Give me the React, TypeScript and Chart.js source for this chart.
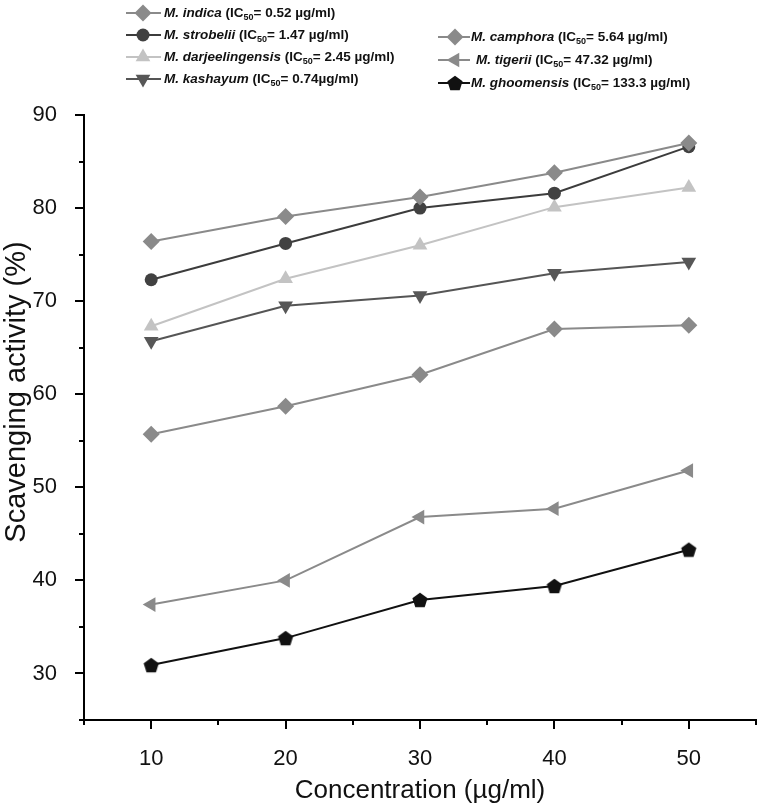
import React, { useEffect, useRef } from 'react';
import { Chart, registerables } from 'chart.js';

Chart.register(...registerables);

// ---- data ----
const concentrations = [10, 20, 30, 40, 50];
const indica = [76.4, 79.1, 81.2, 83.8, 87.0];
const strobelii = [72.3, 76.2, 80.0, 81.6, 86.6];
const darjeelingensis = [67.3, 72.4, 76.0, 80.1, 82.2];
const kashayum = [65.7, 69.5, 70.6, 73.0, 74.2];
const camphora = [55.7, 58.7, 62.1, 67.0, 67.4];
const tigerii = [37.4, 40.0, 46.8, 47.7, 51.8];
const ghoomensis = [30.9, 33.8, 37.9, 39.4, 43.3];

const speciesNames = ['M. indica', 'M. strobelii', 'M. darjeelingensis', 'M. kashayum', 'M. camphora', 'M. tigerii', 'M. ghoomensis'];
const ic50Values = ['= 0.52 µg/ml)', '= 1.47 µg/ml)', '= 2.45 µg/ml)', '= 0.74µg/ml)', '= 5.64 µg/ml)', '= 47.32 µg/ml)', '= 133.3 µg/ml)'];
const xTitle = 'Concentration (µg/ml)';
const yTitle = 'Scavenging activity (%)';

// ---- styles ----
const FONT = "'Liberation Sans', Arial, Helvetica, sans-serif";
const NARROW = "'Liberation Sans Narrow', 'Arial Narrow', 'Liberation Sans', Arial, sans-serif";

function makePentagon(color: string, r: number) {
  const c = document.createElement('canvas');
  const s = Math.ceil(r * 2 + 2);
  c.width = s; c.height = s;
  const g = c.getContext('2d')!;
  g.fillStyle = color;
  g.beginPath();
  for (let i = 0; i < 5; i++) {
    const a = -Math.PI / 2 + (i * 2 * Math.PI) / 5;
    const px = s / 2 + r * Math.cos(a);
    const py = s / 2 + r * Math.sin(a) + r * 0.1;
    if (i === 0) g.moveTo(px, py); else g.lineTo(px, py);
  }
  g.closePath();
  g.fill();
  return c;
}

type SeriesStyle = { color: string; style: any; rotation: number; radius: number };

function drawMarker(ctx: CanvasRenderingContext2D, st: SeriesStyle, x: number, y: number) {
  ctx.save();
  ctx.fillStyle = st.color;
  ctx.translate(x, y);
  ctx.rotate((st.rotation * Math.PI) / 180);
  const r = st.radius;
  ctx.beginPath();
  if (st.style === 'rectRot') {
    ctx.moveTo(0, -r); ctx.lineTo(r, 0); ctx.lineTo(0, r); ctx.lineTo(-r, 0); ctx.closePath(); ctx.fill();
  } else if (st.style === 'circle') {
    ctx.arc(0, 0, r, 0, Math.PI * 2); ctx.fill();
  } else if (st.style === 'triangle') {
    for (let i = 0; i < 3; i++) {
      const a = (i * 2 * Math.PI) / 3;
      const px = Math.sin(a) * r, py = -Math.cos(a) * r;
      if (i === 0) ctx.moveTo(px, py); else ctx.lineTo(px, py);
    }
    ctx.closePath(); ctx.fill();
  } else if (st.style instanceof HTMLCanvasElement) {
    ctx.drawImage(st.style, -st.style.width / 2, -st.style.height / 2);
  }
  ctx.restore();
}

export default function App() {
  const ref = useRef<HTMLCanvasElement | null>(null);

  useEffect(() => {
    const pent = makePentagon('#111111', 8);
    const styles: SeriesStyle[] = [
      { color: '#8a8a8a', style: 'rectRot', rotation: 0, radius: 8.5 },
      { color: '#414141', style: 'circle', rotation: 0, radius: 6.5 },
      { color: '#c3c3c3', style: 'triangle', rotation: 0, radius: 8.5 },
      { color: '#575757', style: 'triangle', rotation: 180, radius: 8.5 },
      { color: '#8a8a8a', style: 'rectRot', rotation: 0, radius: 8.5 },
      { color: '#8a8a8a', style: 'triangle', rotation: 270, radius: 8.5 },
      { color: '#111111', style: pent, rotation: 0, radius: 8 },
    ];
    const lineColors = ['#8a8a8a', '#3c3c3c', '#c3c3c3', '#555555', '#8a8a8a', '#8a8a8a', '#111111'];
    const series = [indica, strobelii, darjeelingensis, kashayum, camphora, tigerii, ghoomensis];

    const datasets = series.map((vals, i) => ({
      label: speciesNames[i],
      data: vals.map((v, j) => ({ x: concentrations[j], y: v })),
      borderColor: lineColors[i],
      backgroundColor: styles[i].color,
      pointBackgroundColor: styles[i].color,
      pointBorderColor: styles[i].color,
      pointBorderWidth: 0,
      borderWidth: 2,
      pointStyle: styles[i].style,
      rotation: styles[i].rotation,
      pointRadius: styles[i].radius,
      tension: 0,
    }));

    const legendLayout = [
      { mx: 143, y: 13, x1: 126, x2: 161, tx: 164 },
      { mx: 143, y: 35, x1: 126, x2: 161, tx: 164 },
      { mx: 143, y: 57, x1: 126, x2: 161, tx: 164 },
      { mx: 143, y: 79, x1: 126, x2: 161, tx: 164 },
      { mx: 455, y: 37, x1: 438, x2: 470, tx: 471 },
      { mx: 455, y: 60, x1: 438, x2: 470, tx: 476 },
      { mx: 455, y: 83, x1: 438, x2: 470, tx: 471 },
    ];

    const legendPlugin = {
      id: 'customLegend',
      afterDraw(chart: any) {
        const ctx: CanvasRenderingContext2D = chart.ctx;
        legendLayout.forEach((L, i) => {
          ctx.save();
          ctx.strokeStyle = lineColors[i];
          ctx.lineWidth = 2;
          ctx.beginPath();
          ctx.moveTo(L.x1, L.y);
          ctx.lineTo(L.x2, L.y);
          ctx.stroke();
          drawMarker(ctx, styles[i], L.mx, L.y);
          ctx.fillStyle = '#111';
          ctx.textBaseline = 'middle';
          let x = L.tx;
          const parts = [
            { t: speciesNames[i], f: `italic bold 13.5px ${FONT}`, dy: 0 },
            { t: ' (IC', f: `bold 13.5px ${FONT}`, dy: 0 },
            { t: '50', f: `bold 9px ${FONT}`, dy: 5 },
            { t: ic50Values[i], f: `bold 13.5px ${FONT}`, dy: 0 },
          ];
          parts.forEach((p) => {
            ctx.font = p.f;
            ctx.fillText(p.t, x, L.y + p.dy);
            x += ctx.measureText(p.t).width;
          });
          ctx.restore();
        });
      },
    };

    const yTitlePlugin = {
      id: 'yTitle',
      afterDraw(chart: any) {
        const ctx: CanvasRenderingContext2D = chart.ctx;
        ctx.save();
        ctx.translate(17, 392);
        ctx.rotate(-Math.PI / 2);
        ctx.fillStyle = '#111';
        ctx.font = `29px ${FONT}`;
        ctx.textAlign = 'center';
        ctx.textBaseline = 'middle';
        ctx.fillText(yTitle, 0, 0);
        ctx.restore();
      },
    };

    const tickMarks = {
      id: 'tickMarks',
      afterDraw(chart: any) {
        const ctx: CanvasRenderingContext2D = chart.ctx;
        const xs = chart.scales.x, ys = chart.scales.y;
        const area = chart.chartArea;
        ctx.save();
        ctx.strokeStyle = '#000';
        ctx.lineWidth = 2;
        xs.ticks.forEach((t: any) => {
          const px = Math.round(xs.getPixelForValue(t.value));
          const len = t.value % 10 === 0 ? 9 : 5;
          ctx.beginPath();
          ctx.moveTo(px, area.bottom);
          ctx.lineTo(px, area.bottom + len);
          ctx.stroke();
        });
        ys.ticks.forEach((t: any) => {
          const py = Math.round(ys.getPixelForValue(t.value));
          const len = t.value % 10 === 0 ? 9 : 5;
          ctx.beginPath();
          ctx.moveTo(area.left - len, py);
          ctx.lineTo(area.left, py);
          ctx.stroke();
        });
        ctx.restore();
      },
    };

    const chart = new Chart(ref.current!, {
      type: 'line',
      data: { datasets: datasets as any },
      options: {
        animation: false,
        responsive: false,
        devicePixelRatio: 1,
        layout: { padding: { top: 115, right: 3, left: 0, bottom: 0 } },
        plugins: { legend: { display: false }, tooltip: { enabled: false } },
        scales: {
          x: {
            type: 'linear',
            min: 5,
            max: 55,
            grid: { display: false },
            border: { display: true, color: '#000', width: 2 },
            ticks: {
              stepSize: 5,
              autoSkip: false,
              maxRotation: 0,
              padding: 18,
              color: '#111',
              font: { family: NARROW, size: 22 },
              callback: (v: any) => (Number(v) % 10 === 0 ? String(v) : ''),
            },
            title: { display: true, text: xTitle, color: '#111', font: { family: FONT, size: 26 }, padding: { top: 0, bottom: 4 } },
            afterFit: (s: any) => { s.height = 90; },
          },
          y: {
            type: 'linear',
            min: 25,
            max: 90,
            grid: { display: false },
            border: { display: true, color: '#000', width: 2 },
            ticks: {
              stepSize: 5,
              autoSkip: false,
              padding: 19,
              color: '#111',
              font: { family: NARROW, size: 22 },
              callback: (v: any) => (Number(v) % 10 === 0 ? String(v) : ''),
            },
            title: { display: false, text: yTitle },
            afterFit: (s: any) => { s.width = 84; },
          },
        },
      },
      plugins: [legendPlugin, tickMarks, yTitlePlugin],
    });
    return () => chart.destroy();
  }, []);

  return (
    <div style={{ position: 'absolute', left: 0, top: 0, width: 774, height: 810, background: '#fff' }}>
      <canvas ref={ref} width={774} height={810} style={{ width: 774, height: 810, display: 'block' }} />
    </div>
  );
}
